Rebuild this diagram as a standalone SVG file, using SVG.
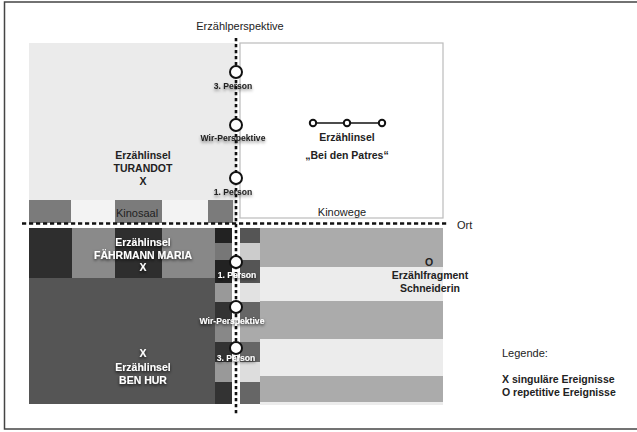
<svg xmlns="http://www.w3.org/2000/svg" width="637" height="432" viewBox="0 0 637 432">
<defs>
<style>
text{font-family:"Liberation Sans",Arial,sans-serif;}
.b{font-weight:bold;font-size:10.5px;text-anchor:middle;}
.lg{font-weight:bold;font-size:10.5px;text-anchor:start;}
.dk{fill:#222;}
.wt{fill:#fff;}
.reg{font-size:11px;fill:#222;}
.ax{font-weight:bold;font-size:8.6px;text-anchor:middle;}
.pt{fill:#fff;stroke:#111;stroke-width:2;}
.axis{stroke:#111;stroke-width:2.6;fill:none;}
</style>
<filter id="shL" x="-20%" y="-50%" width="140%" height="220%">
<feDropShadow dx="0" dy="2" stdDeviation="1.6" flood-color="#000" flood-opacity="0.45"/>
</filter>
<filter id="shD" x="-20%" y="-50%" width="140%" height="220%">
<feDropShadow dx="0" dy="1.5" stdDeviation="1.5" flood-color="#000" flood-opacity="0.8"/>
</filter>
</defs>
<rect x="0" y="0" width="637" height="432" fill="#fff"/>
<rect x="4.5" y="2" width="640" height="427" fill="none" stroke="#444" stroke-width="1.5"/>

<g id="turandot">
<rect x="29" y="43" width="207" height="180" fill="#ebebeb"/>
<rect x="71" y="200" width="44" height="23" fill="#f3f3f3"/>
<rect x="162" y="200" width="46" height="23" fill="#f3f3f3"/>
<rect x="29" y="200" width="42" height="23" fill="#7b7b7b"/>
<rect x="115" y="200" width="47" height="23" fill="#7b7b7b"/>
<rect x="208" y="200" width="25" height="23" fill="#7b7b7b"/>
<text class="reg" x="137" y="217" text-anchor="middle">Kinosaal</text>
<text class="b dk" x="143" y="159">Erzählinsel</text>
<text class="b dk" x="143" y="172">TURANDOT</text>
<text class="b dk" x="143" y="185">X</text>
</g>

<g id="patres">
<rect x="240" y="43" width="203" height="175" fill="#fff" stroke="#bbb" stroke-width="1.2"/>
<line x1="317" y1="123" x2="343" y2="123" stroke="#111" stroke-width="1.5"/>
<line x1="351" y1="123" x2="378" y2="123" stroke="#111" stroke-width="1.5"/>
<circle cx="313" cy="123" r="3.2" fill="#fff" stroke="#111" stroke-width="2"/>
<circle cx="347" cy="123" r="3.2" fill="#fff" stroke="#111" stroke-width="2"/>
<circle cx="382" cy="123" r="3.2" fill="#fff" stroke="#111" stroke-width="2"/>
<text class="b dk" x="347" y="141">Erzählinsel</text>
<text class="b dk" x="347" y="159">„Bei den Patres“</text>
<text class="reg" x="342" y="216" text-anchor="middle">Kinowege</text>
</g>

<g id="faehrmann">
<rect x="29" y="228" width="43" height="50" fill="#2e2e2e"/>
<rect x="72" y="228" width="43" height="50" fill="#8a8a8a"/>
<rect x="115" y="228" width="47" height="50" fill="#2e2e2e"/>
<rect x="162" y="228" width="53" height="50" fill="#888"/>
<g filter="url(#shD)">
<text class="b wt" x="143" y="246">Erzählinsel</text>
<text class="b wt" x="143" y="259">FÄHRMANN MARIA</text>
<text class="b wt" x="143" y="271">X</text>
</g>
</g>

<g id="benhur">
<rect x="29" y="278" width="186" height="126" fill="#555"/>
<g filter="url(#shD)">
<text class="b wt" x="143" y="357">X</text>
<text class="b wt" x="143" y="371">Erzählinsel</text>
<text class="b wt" x="143" y="384">BEN HUR</text>
</g>
</g>

<g id="columns">
<rect x="215" y="228" width="17" height="15" fill="#222"/>
<rect x="215" y="243" width="17" height="17" fill="#777"/>
<rect x="215" y="260" width="17" height="23" fill="#222"/>
<rect x="215" y="283" width="17" height="19" fill="#999"/>
<rect x="215" y="302" width="17" height="20" fill="#333"/>
<rect x="215" y="322" width="17" height="20" fill="#888"/>
<rect x="215" y="342" width="17" height="20" fill="#333"/>
<rect x="215" y="362" width="17" height="20" fill="#999"/>
<rect x="215" y="382" width="17" height="22" fill="#333"/>
<rect x="240" y="228" width="20" height="15" fill="#555"/>
<rect x="240" y="243" width="20" height="17" fill="#ccc"/>
<rect x="240" y="260" width="20" height="23" fill="#555"/>
<rect x="240" y="283" width="20" height="19" fill="#e2e2e2"/>
<rect x="240" y="302" width="20" height="20" fill="#666"/>
<rect x="240" y="322" width="20" height="20" fill="#aaa"/>
<rect x="240" y="342" width="20" height="20" fill="#666"/>
<rect x="240" y="362" width="20" height="20" fill="#ddd"/>
<rect x="240" y="382" width="20" height="22" fill="#666"/>
</g>

<g id="schneiderin">
<rect x="260" y="228" width="183" height="177" fill="#ececec"/>
<rect x="260" y="228" width="183" height="39" fill="#ababab"/>
<rect x="260" y="301" width="183" height="38" fill="#ababab"/>
<rect x="260" y="376" width="183" height="26" fill="#ababab"/>
<text class="b dk" x="429" y="266">O</text>
<text class="b dk" x="430" y="279">Erzählfragment</text>
<text class="b dk" x="430" y="292">Schneiderin</text>
</g>

<g id="connectors">
<line class="axis" x1="236" y1="38" x2="236" y2="416" stroke-dasharray="3.2 2.8"/>
<line class="axis" x1="22" y1="223.5" x2="449" y2="223.5" stroke-dasharray="4.2 2.8"/>
<text class="reg" x="240" y="30" text-anchor="middle">Erzählperspektive</text>
<text class="reg" x="457" y="229">Ort</text>
</g>

<g id="perspektiven-oben">
<circle class="pt" cx="236" cy="72" r="6"/>
<circle class="pt" cx="236" cy="125" r="6"/>
<circle class="pt" cx="236" cy="178" r="6"/>
<g filter="url(#shL)">
<text class="ax dk" x="233" y="89">3. Person</text>
<text class="ax dk" x="233" y="141">Wir-Perspektive</text>
<text class="ax dk" x="233" y="195">1. Person</text>
</g>
</g>

<g id="perspektiven-unten">
<circle class="pt" cx="236" cy="262" r="6"/>
<circle class="pt" cx="236" cy="307" r="6"/>
<circle class="pt" cx="236" cy="348" r="6"/>
<g filter="url(#shD)">
<text class="ax wt" x="237" y="278">1. Person</text>
<text class="ax wt" x="232" y="324">Wir-Perspektive</text>
<text class="ax wt" x="236" y="361">3. Person</text>
</g>
</g>

<g id="legende">
<text class="reg" x="502" y="357">Legende:</text>
<text class="lg dk" x="502" y="383">X singuläre Ereignisse</text>
<text class="lg dk" x="502" y="396">O repetitive Ereignisse</text>
</g>
</svg>
